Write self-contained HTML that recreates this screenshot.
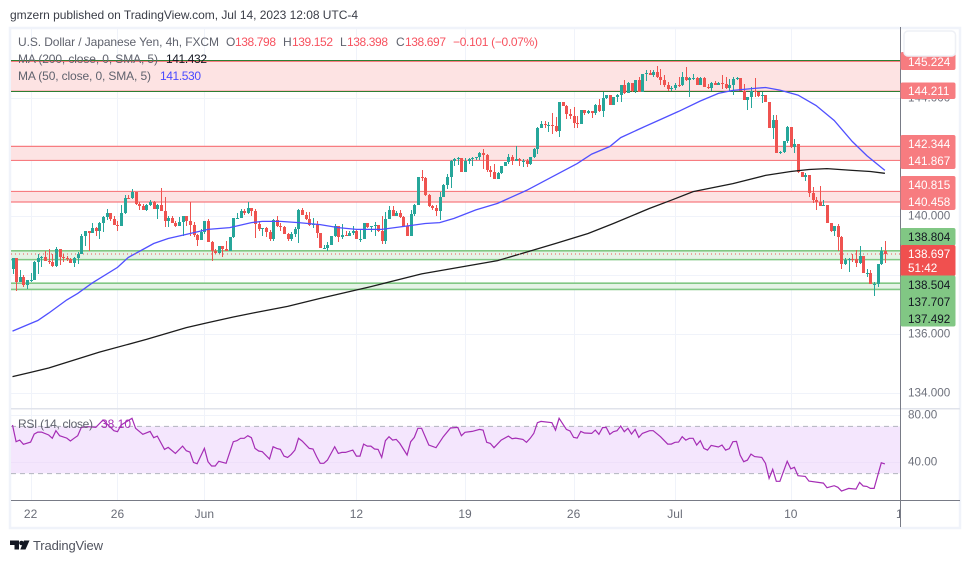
<!DOCTYPE html>
<html lang="en">
<head>
<meta charset="utf-8">
<title>USD/JPY 4h chart</title>
<style>
html,body{margin:0;padding:0;background:#fff;width:970px;height:563px;overflow:hidden}
svg{display:block;font-family:"Liberation Sans",Arial,sans-serif}
.ax{font-size:11.7px;fill:#6f727d}
.lb{font-size:11.7px;fill:#fff}
.lg{font-size:11.7px;fill:#131722}
.leg{font-size:12px;fill:#60636e}
.tm{font-size:12px;fill:#6a6d78;text-anchor:middle}
.r{fill:#f7525f}
</style>
</head>
<body>
<svg id="chart" xmlns="http://www.w3.org/2000/svg" width="970" height="563" viewBox="0 0 970 563">
  <defs><clipPath id="time-clip"><rect x="11" y="501" width="889" height="26"/></clipPath></defs>
  <text x="10" y="19" font-size="12" fill="#3a3d47" textLength="348">gmzern published on TradingView.com, Jul 14, 2023 12:08 UTC-4</text>
  <rect x="10" y="28" width="950" height="500" fill="#fff" stroke="#f0f3fa" stroke-width="2.5"/>
  <g id="grid"></g>
  <rect x="11" y="426.4" width="889" height="47" fill="#f4e6fd"/>
  <g id="rsi-grid"></g>
  <line x1="11" x2="900" y1="426.4" y2="426.4" stroke="#b2b5be" stroke-dasharray="5 4"/>
  <line x1="11" x2="900" y1="473.6" y2="473.6" stroke="#b2b5be" stroke-dasharray="5 4"/>
  <g id="zones"></g>
  <g id="candles"></g>
  <polyline id="ma200" fill="none" stroke="#1c1c1c" stroke-width="1.3"/>
  <polyline id="ma50" fill="none" stroke="#5050ff" stroke-width="1.3"/>
  <line id="last-line" x1="11" x2="900" stroke="#ef5350" stroke-dasharray="1 3"/>
  <polyline id="rsi" fill="none" stroke="#a52db5" stroke-width="1.2"/>

  <rect x="11" y="408" width="949" height="1.5" fill="#e0e3eb"/>
  <rect x="11" y="500" width="949" height="1" fill="#787b86"/>
  <rect x="900" y="27" width="1" height="500" fill="#787b86"/>

  <g>
    <text class="leg" x="18" y="46" textLength="201">U.S. Dollar / Japanese Yen, 4h, FXCM</text>
    <text class="leg" x="226" y="46">O</text><text class="leg r" x="235" y="46" textLength="41">138.798</text>
    <text class="leg" x="283" y="46">H</text><text class="leg r" x="292" y="46" textLength="41">139.152</text>
    <text class="leg" x="340" y="46">L</text><text class="leg r" x="347" y="46" textLength="41">138.398</text>
    <text class="leg" x="396" y="46">C</text><text class="leg r" x="405" y="46" textLength="41">138.697</text>
    <text class="leg r" x="453" y="46" textLength="85">−0.101 (−0.07%)</text>
    <text class="leg" x="18" y="63" textLength="140">MA (200, close, 0, SMA, 5)</text>
    <text class="leg" x="166" y="63" textLength="41" style="fill:#131722">141.432</text>
    <text class="leg" x="18" y="80" textLength="133">MA (50, close, 0, SMA, 5)</text>
    <text class="leg" x="160" y="80" textLength="41" style="fill:#4a4aff">141.530</text>
    <text class="leg" x="18" y="428" textLength="75">RSI (14, close)</text>
    <text class="leg" x="101" y="428" textLength="30" style="fill:#a52db5">38.10</text>
  </g>

  <g id="price-ticks"></g>
  <g>
    <rect x="900.5" y="52" width="55" height="18" rx="2" fill="#f77c80"/>
    <rect x="900.5" y="82.5" width="55" height="16.5" rx="2" fill="#f77c80"/>
    <rect x="900.5" y="135" width="55" height="34" rx="2" fill="#f77c80"/>
    <rect x="900.5" y="176" width="55" height="34" rx="2" fill="#f77c80"/>
    <rect x="900.5" y="228" width="55" height="17.5" rx="2" fill="#81c784"/>
    <rect x="900.5" y="245" width="55" height="31" rx="2" fill="#f0504f"/>
    <rect x="900.5" y="275.5" width="55" height="51" rx="2" fill="#81c784"/>
    <text class="lb" x="908" y="66">145.224</text>
    <text class="lb" x="908" y="95">144.211</text>
    <text class="lb" x="908" y="148">142.344</text>
    <text class="lb" x="908" y="165">141.867</text>
    <text class="lb" x="908" y="189">140.815</text>
    <text class="lb" x="908" y="206">140.458</text>
    <text class="lg" x="908" y="241">138.804</text>
    <text class="lb" x="908" y="258">138.697</text>
    <text class="lb" x="908" y="272">51:42</text>
    <text class="lg" x="908" y="289">138.504</text>
    <text class="lg" x="908" y="306">137.707</text>
    <text class="lg" x="908" y="323">137.492</text>
  </g>
  <rect x="904" y="31" width="51.5" height="25" rx="4" fill="#fff" stroke="#eef0f5" stroke-width="1.5"/>
  <g id="rsi-ticks"></g>
  <g id="time-ticks" clip-path="url(#time-clip)"></g>

  <g>
    <path d="M10 540.5h9v9h-4.5v-4.5H10z" fill="#131722"/>
    <circle cx="21.5" cy="543" r="2.3" fill="#131722"/>
    <path d="M24 540.5h5.5l-4 9h-5.2z" fill="#131722"/>
  </g>
  <text x="33" y="550" font-size="13" fill="#50535e" textLength="70">TradingView</text>
</svg>
<script>
const firstOpen = 138.17;
const closes = [138.56,137.76,137.93,137.63,137.80,137.80,138.44,138.56,138.61,138.47,138.41,138.28,138.87,138.61,138.56,138.51,138.40,138.56,138.70,139.32,139.46,139.40,139.58,139.47,139.74,139.94,140.07,139.89,139.69,139.66,140.09,140.60,140.59,140.79,140.40,140.31,140.17,140.37,140.45,140.21,140.35,140.15,139.81,139.92,139.76,139.66,139.79,139.97,139.81,139.69,139.34,139.18,139.44,139.81,139.10,138.79,138.73,138.98,138.87,138.81,139.27,139.91,139.92,140.14,140.08,140.26,140.14,139.72,139.55,139.59,139.44,139.19,139.85,139.63,139.61,139.36,139.21,139.38,139.55,140.19,140.03,139.89,139.69,139.72,139.40,138.89,138.90,138.99,139.29,139.66,139.27,139.34,139.32,139.42,139.49,139.20,139.20,139.74,139.60,139.64,139.68,139.49,139.13,139.89,140.20,140.00,140.09,139.94,139.66,139.32,140.06,140.37,141.30,141.27,140.68,140.32,140.25,140.14,140.64,141.05,141.30,141.86,141.92,141.95,141.47,141.86,141.90,141.94,141.97,142.11,142.06,141.53,141.47,141.25,141.45,141.69,141.80,142.00,141.84,141.90,141.84,141.85,141.75,142.00,142.26,142.98,143.11,143.08,143.08,143.05,142.85,143.86,143.71,143.44,143.38,143.12,143.10,143.58,143.47,143.53,143.49,143.73,143.53,143.99,144.07,143.75,144.01,144.07,144.41,144.15,144.49,144.21,144.60,144.20,144.78,144.84,144.75,144.88,144.71,144.60,144.44,144.29,144.33,144.44,144.42,144.71,144.58,144.67,144.67,144.44,144.67,144.37,144.33,144.49,144.44,144.49,144.47,144.33,144.41,144.63,144.67,144.21,143.93,144.01,144.21,144.17,144.06,144.10,143.84,142.96,143.25,142.11,142.15,142.51,142.99,142.32,142.44,141.47,141.30,141.36,140.76,140.53,140.45,140.31,140.37,139.74,139.49,139.63,139.27,138.37,138.50,138.53,138.51,138.38,138.64,138.05,138.05,137.67,137.69,138.34,138.81,138.697];
const highs = [138.56,138.56,138.14,137.97,137.82,138.05,138.47,138.68,138.64,138.81,138.87,138.68,138.93,138.87,138.68,138.64,138.55,138.61,138.76,139.38,139.49,139.49,139.74,139.60,139.77,139.98,140.23,140.09,139.97,139.83,140.34,140.70,140.71,140.90,140.79,140.45,140.40,140.40,140.51,140.49,140.40,140.94,140.64,139.97,139.97,139.81,139.94,139.97,139.97,140.45,139.77,139.38,139.55,139.81,139.89,139.15,138.87,138.98,138.98,139.15,139.27,139.91,140.08,140.23,140.23,140.45,140.26,140.23,139.81,139.59,139.60,139.51,139.89,140.00,139.74,139.66,139.40,139.44,139.60,140.23,140.26,140.11,140.11,139.92,139.83,139.40,139.01,139.10,139.32,139.72,139.66,139.72,139.49,139.49,139.66,139.51,139.55,139.76,139.74,139.66,139.77,139.60,140.00,140.11,140.31,140.31,140.15,140.17,140.00,139.75,140.17,140.40,141.32,141.53,141.32,140.73,140.36,140.34,140.79,141.07,141.39,141.89,141.94,141.98,141.95,141.95,141.95,141.98,142.00,142.15,142.26,142.07,141.69,141.75,141.47,141.69,141.80,142.07,142.06,142.37,141.95,141.92,141.90,142.00,142.28,142.99,143.22,143.20,143.16,143.47,143.33,143.86,143.86,143.73,143.62,143.67,143.36,143.58,143.58,143.58,143.53,143.79,143.95,144.18,144.09,144.07,144.01,144.12,144.43,144.60,144.51,144.49,144.61,144.71,144.80,144.92,144.92,144.94,145.08,144.97,144.75,144.52,144.38,144.49,144.71,144.86,145.05,144.71,144.78,144.71,144.69,144.69,144.46,144.52,144.55,144.53,144.75,144.69,144.63,144.69,144.71,144.67,144.46,144.01,144.35,144.67,144.18,144.18,144.10,143.86,143.39,143.42,142.19,142.53,143.03,142.99,142.60,142.44,141.49,141.44,141.36,140.96,140.62,140.99,140.51,140.37,139.75,139.63,139.72,139.29,138.56,138.56,138.68,138.84,138.98,138.64,138.19,138.14,137.76,138.36,138.93,139.152];
const lows = [138.02,137.43,137.74,137.59,137.50,137.76,137.80,138.02,138.27,138.47,138.36,138.25,138.27,138.32,138.42,138.47,138.40,138.25,138.36,138.68,138.98,138.81,139.40,139.29,139.19,139.44,139.85,139.81,139.69,139.49,139.66,140.06,140.56,140.56,140.37,140.17,140.17,140.15,140.31,140.21,139.89,140.15,139.60,139.60,139.74,139.60,139.64,139.32,139.66,139.32,139.27,138.98,139.18,139.38,139.10,138.45,138.68,138.68,138.61,138.79,138.79,139.24,139.89,139.92,140.02,140.06,140.00,139.24,139.49,139.32,139.27,139.13,139.15,139.60,139.49,139.36,139.15,139.15,139.27,139.06,140.03,139.85,139.66,139.58,139.24,138.89,138.85,138.78,139.01,139.27,139.10,139.21,139.30,139.31,139.34,139.19,139.10,139.20,139.57,139.44,139.32,139.44,139.04,139.02,139.89,140.00,139.98,139.91,139.60,139.31,139.32,140.00,140.35,141.16,140.67,140.28,140.17,139.98,139.86,140.62,140.90,140.93,141.67,141.72,141.47,141.47,141.73,141.67,141.89,141.89,141.58,141.47,141.30,141.25,141.23,141.39,141.67,141.73,141.72,141.84,141.69,141.66,141.64,141.71,141.95,142.09,142.95,142.96,142.82,142.77,142.82,142.66,143.71,143.28,143.28,142.97,142.97,143.10,143.42,143.45,143.30,143.42,143.50,143.33,143.95,143.73,143.75,143.84,143.84,144.12,144.15,144.18,144.15,144.18,144.20,144.55,144.75,144.69,144.67,144.44,144.37,144.21,144.21,144.26,144.37,144.38,144.55,144.01,144.60,144.44,144.44,144.35,144.29,144.21,144.41,144.41,144.29,144.29,144.18,144.10,144.58,144.21,143.93,143.56,143.65,144.03,144.03,143.81,143.84,142.96,142.60,142.11,142.09,142.11,142.45,142.29,142.11,141.45,141.30,141.16,140.62,140.42,140.17,140.31,140.31,139.74,139.44,139.32,138.79,138.17,138.31,138.07,138.42,138.25,138.36,138.05,137.93,137.67,137.27,137.59,138.31,138.398];

const ma50Index = [0,5,7,10,15,18,22,29,32,35,39,43,48,54,60,66,69,74,79,85,90,95,102,110,114,118,122,128,134,142,150,156,160,165,168,174,178,184,190,195,199,205,208,212,217,222,227,232,236,241];
const ma50Values = [136.08,136.34,136.44,136.69,137.14,137.36,137.71,138.24,138.58,138.78,139.05,139.22,139.36,139.53,139.59,139.76,139.80,139.80,139.76,139.69,139.59,139.53,139.53,139.66,139.73,139.76,139.90,140.19,140.41,140.85,141.37,141.76,142.08,142.34,142.64,142.98,143.20,143.53,143.88,144.14,144.24,144.31,144.34,144.25,144.08,143.73,143.22,142.51,142.03,141.53];
const ma200Index = [0,5,10,24,37,48,54,61,67,76,85,99,113,134,142,150,159,166,174,176,182,188,199,208,215,220,225,232,237,241];
const ma200Values = [134.54,134.68,134.83,135.37,135.80,136.20,136.37,136.56,136.71,136.92,137.19,137.59,138.02,138.47,138.76,139.05,139.39,139.73,140.14,140.24,140.52,140.81,141.08,141.36,141.49,141.56,141.59,141.53,141.49,141.43];

const rsiIndex = [0,1,2,3,5,6,7,8,10,11,12,13,15,16,17,18,19,21,23,25,28,29,30,33,34,36,38,39,40,42,43,45,47,48,49,50,51,53,54,55,56,57,59,61,62,63,64,65,66,67,68,69,71,72,73,74,75,76,77,78,79,80,82,83,84,85,86,87,89,90,91,92,94,95,96,97,98,99,100,101,102,103,104,105,106,107,109,110,111,112,113,115,117,119,121,123,124,125,127,129,130,131,132,133,135,137,138,139,141,142,143,144,145,146,149,150,151,153,154,155,156,157,158,160,161,162,163,164,165,166,167,168,169,170,171,172,173,174,176,177,179,181,182,183,184,185,186,187,188,189,190,191,192,193,195,196,197,198,199,200,201,202,203,204,205,207,208,209,210,211,212,214,215,216,217,219,220,224,225,227,228,229,231,233,234,235,236,237,238,240,241];
const rsiValues = [71.2,57,58.4,54.8,56.7,63.5,65.2,65.2,62.7,59.9,66.4,62.1,60.1,57.6,59.9,62.1,69.2,69.8,69.2,75.5,66.4,65.5,71.2,76.9,68.4,63.3,65.8,60.4,61.8,50.5,52.2,47.1,53.3,49.4,48.2,39.4,38.3,51.3,40,36.3,36.3,40.3,38.6,57,57.9,59.9,59.9,62.1,60.4,51.3,49.1,48.5,42.3,52.8,51.3,50.5,44.8,43.7,46.2,49.9,59.9,57.6,51.3,50.8,44.3,38.6,38.6,41.4,52.8,47.1,47.9,47.9,49.9,44.8,44.8,55,53.3,53.3,50.8,50.5,43.7,57.9,61.3,58.4,59,55.6,45.7,57,60.7,68.4,68.4,54.2,51.9,61.3,68.7,69.2,62.1,65,65.8,67.5,66.9,56.5,55.6,51.9,58.4,61.8,59.6,60.1,59,56.5,59.9,64.1,73.2,74.3,73.2,66.9,76.9,67.5,66.1,60.7,60.1,65.8,64.4,64.1,66.9,63.3,69,69.2,63.3,65.5,66.4,70.4,65.5,68.4,63.5,67.5,60.7,64.1,66.4,66.4,61.3,55,55,56.5,56.7,61.3,58.4,59.9,59.9,54.2,57.9,51.3,49.9,53.9,52.5,54.2,49.9,51.1,57,57.3,45.7,40,41.4,46.5,44.3,43.7,38.6,25.8,33.5,23.3,23.3,40.3,34,35.2,28.1,27.5,23.5,21.8,17.9,19.6,18.2,15,17.3,16.7,22.4,19.3,19,17.3,17.3,39.1,38.1];

const priceTicks = [144,142,140,138,136,134];
const priceTickLabels = ['144.000','142.000','140.000','138.000','136.000','134.000'];
const rsiTicks = [80,40];
const rsiTickLabels = ['80.00','40.00'];
const timeIndex = [5,29,53,95,125,155,183,215,245];
const timeLabels = ['22','26','Jun','12','19','26','Jul','10','1'];
const redZoneTops = [145.224,142.344,140.815];
const redZoneBottoms = [144.211,141.867,140.458];
const greenZoneTops = [138.804,137.707];
const greenZoneBottoms = [138.504,137.492];
const majorLevels = [145.224,144.211];

const NS = 'http://www.w3.org/2000/svg';
const xAxis = i => 12.5 + 3.62 * i;
const yAxis = p => 215.5 - (p - 140) * 29.5;
const rsiAxis = v => 414.7 + (80 - v) * 1.175;

function svgEl(tag, parent, attrs) {
  const el = document.createElementNS(NS, tag);
  for (const k in attrs) el.setAttribute(k, attrs[k]);
  parent.appendChild(el);
  return el;
}

const grid = document.getElementById('grid');
priceTicks.forEach(p => {
  const el = svgEl('line', grid, {x1: 11, x2: 900, y1: Math.round(yAxis(p)) + 0.5, y2: Math.round(yAxis(p)) + 0.5, stroke: '#f0f3fa'});
  
  
});
timeIndex.filter(i => i < closes.length).forEach(i => {
  const x = Math.round(xAxis(i)) + 0.5;
  const el = svgEl('line', grid, {x1: x, x2: x, y1: 29, y2: 500, stroke: '#f0f3fa'});
  
  
});
const rsiGrid = document.getElementById('rsi-grid');
rsiTicks.forEach(v => {
  const y = Math.round(rsiAxis(v)) + 0.5;
  const el = svgEl('line', rsiGrid, {x1: 11, x2: 900, y1: y, y2: y, stroke: v === 40 ? '#eee0fa' : '#f0f3fa'});
  
  
});

const zones = document.getElementById('zones');
function drawZone(top, bottom, fill, stroke, sw, name) {
  const yT = yAxis(top), yB = yAxis(bottom);
  const r = svgEl('rect', zones, {x: 11, y: yT, width: 889, height: yB - yT, fill: fill});
  
  
  [yT, yB].forEach(y => {
    const l = svgEl('line', zones, {x1: 11, x2: 900, y1: y, y2: y, stroke: stroke, 'stroke-width': sw});
    
    
  });
}
redZoneTops.forEach((t, i) => drawZone(t, redZoneBottoms[i], '#fde3e3', '#f77c80', 1.2, 'resistance-zone'));
greenZoneTops.forEach((t, i) => drawZone(t, greenZoneBottoms[i], '#e5f3e6', '#81c784', 1.6, 'support-zone'));
majorLevels.forEach(p => {
  const y = Math.round(yAxis(p)) - 0.5 + (p === majorLevels[1] ? 1 : 0);
  const l = svgEl('line', zones, {x1: 11, x2: 900, y1: y, y2: y, stroke: '#2e7d32', 'stroke-width': 1.1});
  
  
});

const candles = document.getElementById('candles');
closes.forEach((c, i) => {
  const o = i === 0 ? firstOpen : closes[i - 1];
  const col = c >= o ? '#26a69a' : '#ef5350';
  const x = Math.round(xAxis(i));
  const yH = Math.round(yAxis(highs[i])), yL = Math.round(yAxis(lows[i]));
  const wick = svgEl('rect', candles, {x: x, y: yH, width: 1, height: Math.max(1, yL - yH), fill: col});
  
  
  const yT = Math.round(yAxis(Math.max(o, c))), yB = Math.round(yAxis(Math.min(o, c)));
  const body = svgEl('rect', candles, {x: x - 1, y: yT, width: 3, height: Math.max(1, yB - yT), fill: col});
  
  
});

document.getElementById('ma50').setAttribute('points', ma50Values.map((v, k) => xAxis(ma50Index[k]).toFixed(1) + ',' + yAxis(v).toFixed(1)).join(' '));
document.getElementById('ma200').setAttribute('points', ma200Values.map((v, k) => xAxis(ma200Index[k]).toFixed(1) + ',' + yAxis(v).toFixed(1)).join(' '));
document.getElementById('rsi').setAttribute('points', rsiValues.map((v, k) => xAxis(rsiIndex[k]).toFixed(1) + ',' + rsiAxis(v).toFixed(1)).join(' '));
const lastLine = document.getElementById('last-line');
const lastY = yAxis(closes[closes.length - 1]);
lastLine.setAttribute('y1', lastY);
lastLine.setAttribute('y2', lastY);

const priceTicksG = document.getElementById('price-ticks');
priceTicks.forEach((p, i) => {
  const t = svgEl('text', priceTicksG, {x: 908, y: yAxis(p) + 4, class: 'ax'});
  
  
  t.textContent = priceTickLabels[i];
});
const rsiTicksG = document.getElementById('rsi-ticks');
rsiTicks.forEach((v, i) => {
  const t = svgEl('text', rsiTicksG, {x: 908, y: rsiAxis(v) + 4, class: 'ax'});
  
  
  t.textContent = rsiTickLabels[i];
});
const timeTicksG = document.getElementById('time-ticks');
timeIndex.forEach((i, k) => {
  const t = svgEl('text', timeTicksG, {x: xAxis(i), y: 518, class: 'tm'});
  
  
  t.textContent = timeLabels[k];
});
</script>
</body>
</html>
